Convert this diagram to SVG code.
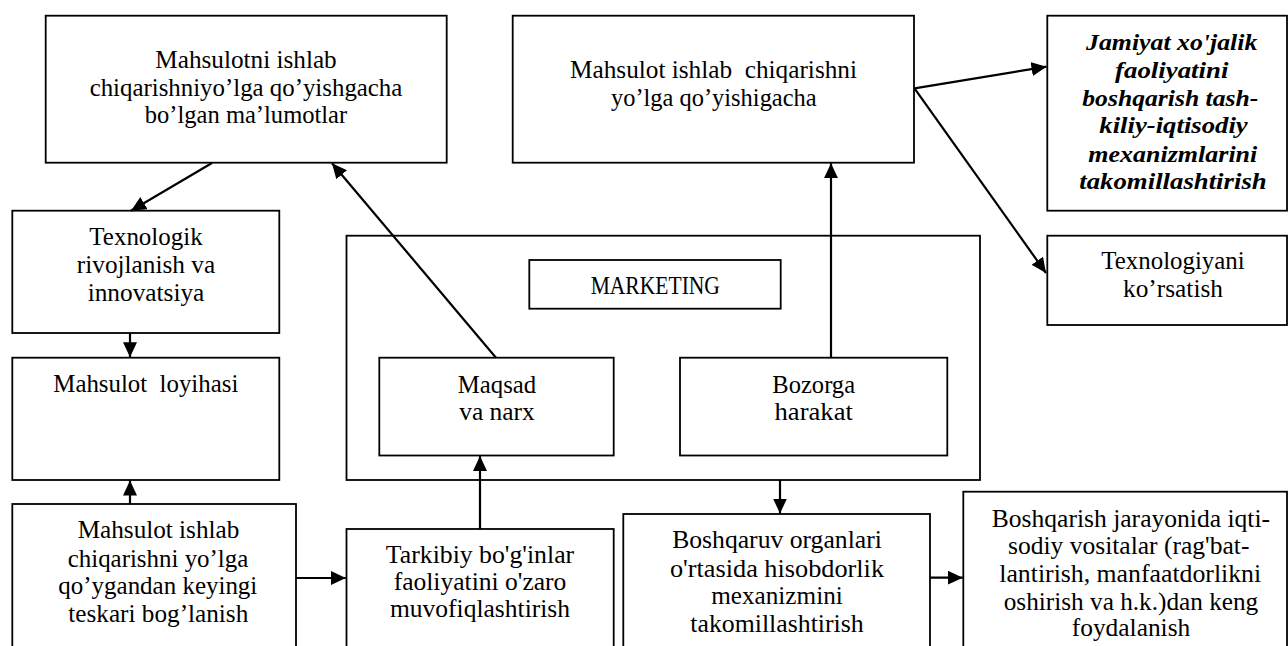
<svg xmlns="http://www.w3.org/2000/svg" width="1288" height="646" viewBox="0 0 1288 646">
<style>
rect{fill:#fff;stroke:#000;stroke-width:1.8}
text{font-family:'Liberation Serif','Times New Roman',serif;font-size:25px;fill:#000;text-anchor:middle}
.bi{font-weight:bold;font-style:italic;font-size:24px}
.c line{stroke:#000;stroke-width:2.2}
</style>
<defs>
<marker id="ah" markerUnits="userSpaceOnUse" markerWidth="15" markerHeight="14" refX="15" refY="7" orient="auto">
<path d="M0,0 L15,7 L0,14 z" fill="#000"/>
</marker>
</defs>
<rect x="0" y="0" width="1288" height="646" style="stroke:none"/>
<g font-family="Liberation Serif, serif">

<g id="box1">
<rect x="45.7" y="15.7" width="401" height="147"/>
<text x="246" y="68.3" textLength="181.4" lengthAdjust="spacingAndGlyphs">Mahsulotni ishlab</text>
<text x="246" y="95.7" textLength="312.7" lengthAdjust="spacingAndGlyphs">chiqarishniyo’lga qo’yishgacha</text>
<text x="246" y="123.3" textLength="202.4" lengthAdjust="spacingAndGlyphs">bo’lgan ma’lumotlar</text>
</g>

<g id="box2">
<rect x="512.7" y="15.7" width="401.3" height="147"/>
<text x="713.5" y="78.3" textLength="287" lengthAdjust="spacingAndGlyphs" xml:space="preserve">Mahsulot ishlab  chiqarishni</text>
<text x="713.8" y="106" textLength="205.7" lengthAdjust="spacingAndGlyphs">yo’lga qo’yishigacha</text>
</g>

<g id="jamiyat">
<rect x="1047.3" y="15.7" width="239.7" height="195"/>
<text class="bi" x="1171.7" y="50" textLength="171.3" lengthAdjust="spacingAndGlyphs">Jamiyat xo'jalik</text>
<text class="bi" x="1171.7" y="78.3" textLength="113.3" lengthAdjust="spacingAndGlyphs">faoliyatini</text>
<text class="bi" x="1170.3" y="106" textLength="176" lengthAdjust="spacingAndGlyphs">boshqarish tash-</text>
<text class="bi" x="1173.5" y="133.3" textLength="148.4" lengthAdjust="spacingAndGlyphs">kiliy-iqtisodiy</text>
<text class="bi" x="1172.8" y="161.7" textLength="169" lengthAdjust="spacingAndGlyphs">mexanizmlarini</text>
<text class="bi" x="1173" y="189.3" textLength="187.4" lengthAdjust="spacingAndGlyphs">takomillashtirish</text>
</g>

<g id="texnologiyani">
<rect x="1047.3" y="235.7" width="239.7" height="89.3"/>
<text x="1173" y="269.3" textLength="143.3" lengthAdjust="spacingAndGlyphs">Texnologiyani</text>
<text x="1173" y="296.7" textLength="100" lengthAdjust="spacingAndGlyphs">ko’rsatish</text>
</g>

<g id="texnologik">
<rect x="12.3" y="210.7" width="267" height="122.3"/>
<text x="146" y="245" textLength="113.4" lengthAdjust="spacingAndGlyphs">Texnologik</text>
<text x="146" y="273.3" textLength="138.3" lengthAdjust="spacingAndGlyphs">rivojlanish va</text>
<text x="146" y="301" textLength="116.7" lengthAdjust="spacingAndGlyphs">innovatsiya</text>
</g>

<g id="marketing-group">
<rect x="346.5" y="235.7" width="633.5" height="244.3"/>
</g>

<g id="marketing">
<rect x="529.3" y="260" width="251.4" height="48.7"/>
<text x="655.3" y="294" textLength="129.3" lengthAdjust="spacingAndGlyphs">MARKETING</text>
</g>

<g id="maqsad">
<rect x="379.3" y="357.7" width="234.4" height="97.8"/>
<text x="497" y="392.7" textLength="78.3" lengthAdjust="spacingAndGlyphs">Maqsad</text>
<text x="497" y="420" textLength="75.7" lengthAdjust="spacingAndGlyphs">va narx</text>
</g>

<g id="bozorga">
<rect x="680" y="357.7" width="267.3" height="97.8"/>
<text x="813.7" y="392.7" textLength="82.7" lengthAdjust="spacingAndGlyphs">Bozorga</text>
<text x="813.7" y="420" textLength="78.3" lengthAdjust="spacingAndGlyphs">harakat</text>
</g>

<g id="loyihasi">
<rect x="12.3" y="357.7" width="267" height="122.3"/>
<text x="145.8" y="391.7" textLength="185" lengthAdjust="spacingAndGlyphs" xml:space="preserve">Mahsulot  loyihasi</text>
</g>

<g id="teskari">
<rect x="12.3" y="504" width="283.7" height="160"/>
<text x="158.5" y="538.3" textLength="161.6" lengthAdjust="spacingAndGlyphs">Mahsulot ishlab</text>
<text x="158" y="566.7" textLength="180.6" lengthAdjust="spacingAndGlyphs">chiqarishni yo’lga</text>
<text x="157.8" y="594" textLength="199" lengthAdjust="spacingAndGlyphs">qo’ygandan keyingi</text>
<text x="158.3" y="621.7" textLength="180" lengthAdjust="spacingAndGlyphs">teskari bog’lanish</text>
</g>

<g id="tarkibiy">
<rect x="346.5" y="529" width="267.2" height="140"/>
<text x="480" y="562.7" textLength="188.3" lengthAdjust="spacingAndGlyphs">Tarkibiy bo'g'inlar</text>
<text x="480" y="590" textLength="172.7" lengthAdjust="spacingAndGlyphs">faoliyatini o'zaro</text>
<text x="480" y="617.3" textLength="180" lengthAdjust="spacingAndGlyphs">muvofiqlashtirish</text>
</g>

<g id="boshqaruv">
<rect x="623.3" y="514" width="306.7" height="150"/>
<text x="777" y="548.3" textLength="209.7" lengthAdjust="spacingAndGlyphs">Boshqaruv organlari</text>
<text x="777" y="576.7" textLength="214.1" lengthAdjust="spacingAndGlyphs">o'rtasida hisobdorlik</text>
<text x="777" y="604" textLength="131.6" lengthAdjust="spacingAndGlyphs">mexanizmini</text>
<text x="777" y="631.7" textLength="173.3" lengthAdjust="spacingAndGlyphs">takomillashtirish</text>
</g>

<g id="boshqarish">
<rect x="963.3" y="491.7" width="323.7" height="170"/>
<text x="1130.9" y="526.7" textLength="278.2" lengthAdjust="spacingAndGlyphs">Boshqarish jarayonida iqti-</text>
<text x="1128.7" y="554" textLength="241.4" lengthAdjust="spacingAndGlyphs">sodiy vositalar (rag'bat-</text>
<text x="1130.2" y="581.7" textLength="261.9" lengthAdjust="spacingAndGlyphs">lantirish, manfaatdorlikni</text>
<text x="1131" y="610" textLength="254.5" lengthAdjust="spacingAndGlyphs">oshirish va h.k.)dan keng</text>
<text x="1131" y="636" textLength="118.5" lengthAdjust="spacingAndGlyphs">foydalanish</text>
</g>
</g>

<g id="connectors" class="c">
<line x1="212" y1="163" x2="131" y2="210.7" marker-end="url(#ah)"/>
<line x1="496" y1="357.7" x2="332" y2="163.3" marker-end="url(#ah)"/>
<line x1="831" y1="357.7" x2="831" y2="163.2" marker-end="url(#ah)"/>
<line x1="914.5" y1="88.3" x2="1046.5" y2="66.7" marker-end="url(#ah)"/>
<line x1="914.5" y1="88.3" x2="1046" y2="273" marker-end="url(#ah)"/>
<line x1="130" y1="333" x2="130" y2="357.2" marker-end="url(#ah)"/>
<line x1="130" y1="504" x2="130" y2="480.5" marker-end="url(#ah)"/>
<line x1="296" y1="578" x2="345.8" y2="578" marker-end="url(#ah)"/>
<line x1="480" y1="529" x2="480" y2="456" marker-end="url(#ah)"/>
<line x1="780" y1="480" x2="780" y2="513.5" marker-end="url(#ah)"/>
<line x1="930" y1="577.7" x2="962.8" y2="577.7" marker-end="url(#ah)"/>
</g>
</svg>
